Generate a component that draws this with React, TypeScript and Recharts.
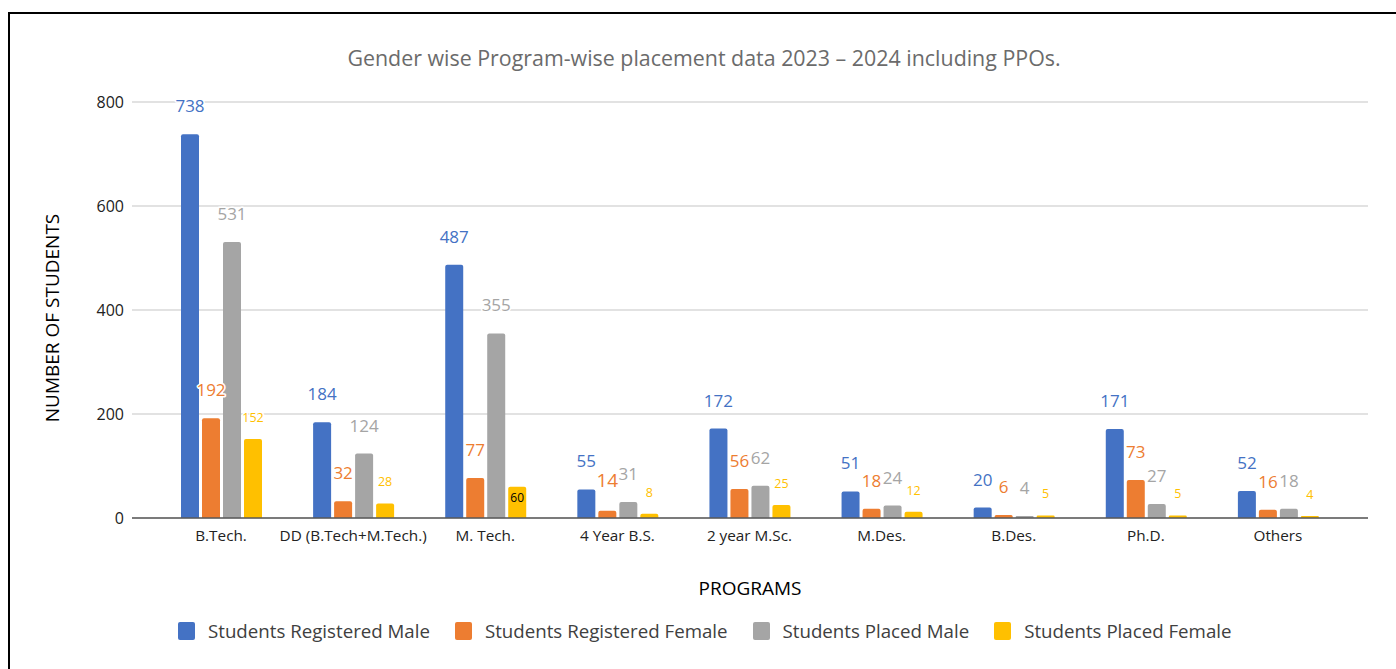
import React from "react";
import { BarChart, Bar, XAxis, YAxis, CartesianGrid, LabelList, Label } from "recharts";

const categories = ["B.Tech.", "DD (B.Tech+M.Tech.)", "M. Tech.", "4 Year B.S.", "2 year M.Sc.", "M.Des.", "B.Des.", "Ph.D.", "Others"];
const registeredMale = [738, 184, 487, 55, 172, 51, 20, 171, 52];
const registeredFemale = [192, 32, 77, 14, 56, 18, 6, 73, 16];
const placedMale = [531, 124, 355, 31, 62, 24, 4, 27, 18];
const placedFemale = [152, 28, 60, 8, 25, 12, 5, 5, 4];
const yTicks = [0, 200, 400, 600, 800];

const seriesNames = ["Students Registered Male", "Students Registered Female", "Students Placed Male", "Students Placed Female"];
const seriesKeys = ["rm", "rf", "pm", "pf"];
const seriesColors = ["#4472C4", "#ED7D31", "#A5A5A5", "#FFC000"];

const data = categories.map((c, i) => ({
  name: c,
  rm: registeredMale[i],
  rf: registeredFemale[i],
  pm: placedMale[i],
  pf: placedFemale[i],
}));

const FONT = "'Open Sans', sans-serif";

// label styling overrides (by series key + category)
const bigLabel: Record<string, boolean> = { "rf|4 Year B.S.": true };
const insideLabel: Record<string, boolean> = { "pf|M. Tech.": true };

function makeLabel(key: string, color: string, small: boolean) {
  return (props: any) => {
    const { x, y, width, value, index } = props;
    const cat = categories[index];
    const id = key + "|" + cat;
    const cx = Number(x) + Number(width) / 2;
    const top = Number(y);
    if (insideLabel[id]) {
      return (
        <text x={cx} y={top + 15} textAnchor="middle" fontSize={12} fill="#000" fontFamily={FONT}>
          {value}
        </text>
      );
    }
    let fs = small ? 12.5 : 17;
    let by = small ? top - 17 : top - 22;
    if (bigLabel[id]) {
      fs = 19;
      by = top - 24;
    }
    return (
      <text
        x={cx}
        y={by}
        textAnchor="middle"
        fontSize={fs}
        fill={color}
        fontFamily={FONT}
        stroke="#fff"
        strokeWidth={3}
        strokeLinejoin="round"
        style={{ paintOrder: "stroke" }}
      >
        {value}
      </text>
    );
  };
}

const YLabel = (props: any) => {
  const vb = props.viewBox || { x: 0, y: 102, width: 132, height: 416 };
  const cx = vb.x + 59;
  const cy = vb.y + vb.height / 2 + 8;
  return (
    <text x={cx} y={cy} transform={`rotate(-90 ${cx} ${cy})`} textAnchor="middle" fontSize={19} fill="#000" fontFamily={FONT}>
      NUMBER OF STUDENTS
    </text>
  );
};

export default function App() {
  return (
    <div style={{ position: "fixed", left: 0, top: 0, width: 1396, height: 669, overflow: "hidden", background: "#fff" }}>
      <div
        style={{
          position: "absolute",
          left: 8,
          top: 12,
          width: 1420,
          height: 700,
          border: "2px solid #000",
          boxSizing: "border-box",
        }}
      />
      <div
        style={{
          position: "absolute",
          left: 0,
          width: 1408,
          top: 43,
          textAlign: "center",
          fontFamily: FONT,
          fontSize: 21.4,
          color: "#6b6b6b",
          lineHeight: "30px",
        }}
      >
        Gender wise Program-wise placement data 2023 – 2024 including PPOs.
      </div>
      <div style={{ position: "absolute", left: 0, top: 0 }}>
        <BarChart
          width={1396}
          height={669}
          data={data}
          margin={{ top: 102, right: 28, left: 0, bottom: 0 }}
          barSize={18}
          barGap={3}
        >
          <CartesianGrid vertical={false} stroke="#d9d9d9" strokeWidth={1.3} />
          <XAxis
            dataKey="name"
            height={151}
            padding={{ left: 23, right: 24 }}
            tickLine={false}
            axisLine={{ stroke: "#595959", strokeWidth: 1.5 }}
            tickMargin={6}
            interval={0}
            tick={{ fontSize: 15.3, fill: "#222", fontFamily: FONT }}
          >
            <Label value="PROGRAMS" position="insideTop" offset={64} style={{ fontSize: 19, fill: "#000", fontFamily: FONT }} />
          </XAxis>
          <YAxis
            width={132}
            domain={[0, 800]}
            ticks={yTicks}
            tickLine={false}
            axisLine={false}
            tick={{ fontSize: 16, fill: "#222", fontFamily: FONT }}
          >
            <Label content={YLabel} />
          </YAxis>
          {seriesKeys.map((k, i) => (
            <Bar key={k} dataKey={k} name={seriesNames[i]} fill={seriesColors[i]} radius={[2, 2, 0, 0]} isAnimationActive={false}>
              <LabelList dataKey={k} content={makeLabel(k, seriesColors[i], k === "pf")} />
            </Bar>
          ))}
        </BarChart>
      </div>
      <div
        style={{
          position: "absolute",
          left: 178,
          top: 619,
          display: "flex",
          alignItems: "center",
          fontFamily: FONT,
          fontSize: 18.7,
          color: "#404040",
        }}
      >
        {seriesNames.map((n, i) => (
          <div key={n} style={{ display: "flex", alignItems: "center", marginRight: 25 }}>
            <span
              style={{
                display: "inline-block",
                width: 17,
                height: 18,
                borderRadius: 2,
                background: seriesColors[i],
                marginRight: 13,
              }}
            />
            <span style={{ lineHeight: "24px" }}>{n}</span>
          </div>
        ))}
      </div>
    </div>
  );
}
